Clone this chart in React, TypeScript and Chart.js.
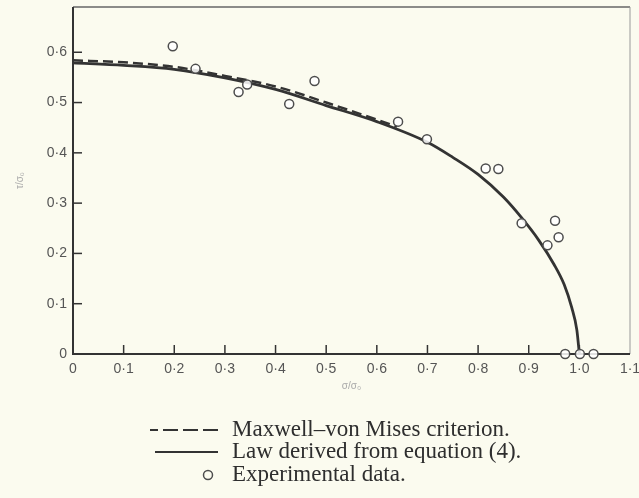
import React, { useEffect, useRef } from 'react';
import { Chart, registerables } from 'chart.js';

Chart.register(...registerables);

// Axis ticks
const xTicks = [0, 0.1, 0.2, 0.3, 0.4, 0.5, 0.6, 0.7, 0.8, 0.9, 1.0, 1.1];
const yTicks = [0, 0.1, 0.2, 0.3, 0.4, 0.5, 0.6];

// Experimental data (open circles)
const expSigma = [0.197, 0.242, 0.327, 0.344, 0.427, 0.477, 0.642, 0.699, 0.815, 0.84, 0.886, 0.937, 0.952, 0.959, 0.972, 1.001, 1.028];
const expTau = [0.612, 0.567, 0.521, 0.536, 0.497, 0.543, 0.462, 0.427, 0.369, 0.368, 0.26, 0.216, 0.265, 0.232, 0, 0, 0];

// Maxwell–von Mises criterion (dashed)
const misesSigma = [0, 0.1, 0.2, 0.3, 0.4, 0.5, 0.6, 0.64];
const misesTau = [0.584, 0.58, 0.571, 0.553, 0.532, 0.5, 0.466, 0.452];

// Law derived from equation (4) (solid)
const lawSigma = [0, 0.1, 0.2, 0.3, 0.4, 0.5, 0.6, 0.7, 0.75, 0.8, 0.85, 0.885, 0.92, 0.95, 0.97, 0.985, 0.995, 1.0];
const lawTau = [0.579, 0.574, 0.566, 0.549, 0.526, 0.494, 0.462, 0.421, 0.391, 0.357, 0.312, 0.272, 0.226, 0.178, 0.138, 0.092, 0.048, 0];

const labels = ['Maxwell–von Mises criterion.', 'Law derived from equation (4).', 'Experimental data.'];

const INK = '#333333';
const TICK_COLOR = '#555555';
const BG = '#fbfbef';

const fmt = (v: number) => (v === 0 ? '0' : v.toFixed(1).replace('.', '·'));

const framePlugin = {
  id: 'frame',
  beforeDatasetsDraw(chart: any) {
    const { ctx, chartArea } = chart;
    const { left, right, top, bottom } = chartArea;
    ctx.save();
    ctx.strokeStyle = '#666';
    ctx.lineWidth = 1.3;
    ctx.beginPath();
    ctx.moveTo(left, top);
    ctx.lineTo(right, top);
    ctx.stroke();
    ctx.strokeStyle = '#999';
    ctx.lineWidth = 1;
    ctx.beginPath();
    ctx.moveTo(right, top);
    ctx.lineTo(right, bottom);
    ctx.stroke();
    ctx.strokeStyle = INK;
    ctx.lineWidth = 2;
    ctx.beginPath();
    ctx.moveTo(left, top);
    ctx.lineTo(left, bottom);
    ctx.lineTo(right, bottom);
    ctx.stroke();
    ctx.lineWidth = 1.5;
    const xs = chart.scales.x;
    const ys = chart.scales.y;
    xs.ticks.forEach((t: any) => {
      if (t.value === 0 || t.value >= 1.1) return;
      const px = xs.getPixelForValue(t.value);
      ctx.beginPath();
      ctx.moveTo(px, bottom);
      ctx.lineTo(px, bottom - 9);
      ctx.stroke();
    });
    ys.ticks.forEach((t: any) => {
      if (t.value === 0) return;
      const py = ys.getPixelForValue(t.value);
      ctx.beginPath();
      ctx.moveTo(left, py);
      ctx.lineTo(left + 9, py);
      ctx.stroke();
    });
    ctx.restore();
  },
  afterDraw(chart: any) {
    const { ctx } = chart;
    const ds = chart.data.datasets;
    ctx.save();
    const textX = 232;
    const rows = [430, 452, 475];
    ctx.font = '23px "Liberation Serif", serif';
    ctx.fillStyle = '#2e2e2e';
    ctx.textBaseline = 'middle';
    ctx.textAlign = 'left';
    ctx.strokeStyle = INK;
    ctx.lineWidth = 2;
    ctx.setLineDash([15, 5]);
    ctx.beginPath();
    ctx.moveTo(218, rows[0]);
    ctx.lineTo(150, rows[0]);
    ctx.stroke();
    ctx.setLineDash([]);
    ctx.fillText(ds[1].label, textX, rows[0]);
    ctx.beginPath();
    ctx.moveTo(155, rows[1]);
    ctx.lineTo(218, rows[1]);
    ctx.stroke();
    ctx.fillText(ds[2].label, textX, rows[1]);
    ctx.lineWidth = 1.5;
    ctx.strokeStyle = '#4d4d4d';
    ctx.beginPath();
    ctx.arc(208, rows[2], 4.5, 0, Math.PI * 2);
    ctx.stroke();
    ctx.fillText(ds[0].label, textX, rows[2]);
    ctx.restore();
  },
};

export default function App() {
  const ref = useRef<HTMLCanvasElement>(null);

  useEffect(() => {
    const canvas = ref.current!;
    const tickFont = { family: '"Liberation Sans", Arial, sans-serif', size: 14 };
    const chart = new Chart(canvas, {
      type: 'scatter',
      data: {
        datasets: [
          {
            label: labels[2],
            data: expSigma.map((x, i) => ({ x, y: expTau[i] })),
            showLine: false,
            pointRadius: 4.5,
            pointBorderWidth: 1.5,
            pointBorderColor: '#4d4d4d',
            pointBackgroundColor: 'rgba(255,255,255,0.85)',
            clip: false,
            order: 0,
          } as any,
          {
            label: labels[0],
            data: misesSigma.map((x, i) => ({ x, y: misesTau[i] })),
            showLine: true,
            borderColor: INK,
            borderWidth: 2.5,
            borderDash: [10, 5],
            pointRadius: 0,
            cubicInterpolationMode: 'monotone',
            order: 1,
          } as any,
          {
            label: labels[1],
            data: lawSigma.map((x, i) => ({ x, y: lawTau[i] })),
            showLine: true,
            borderColor: INK,
            borderWidth: 2.8,
            pointRadius: 0,
            cubicInterpolationMode: 'monotone',
            order: 2,
          } as any,
        ],
      },
      options: {
        responsive: false,
        animation: false,
        events: [],
        layout: { padding: { left: 0, top: 7, right: 0, bottom: 104 } },
        plugins: { legend: { display: false }, tooltip: { enabled: false } },
        scales: {
          x: {
            type: 'linear',
            min: 0,
            max: 1.1,
            afterBuildTicks: (s: any) => {
              s.ticks = xTicks.map((v) => ({ value: v }));
            },
            afterFit: (s: any) => {
              s.height = 40;
              s.paddingRight = 9;
              s.paddingLeft = 0;
            },
            grid: { display: false, drawTicks: false },
            border: { display: false },
            ticks: {
              padding: 7,
              color: TICK_COLOR,
              font: tickFont,
              maxRotation: 0,
              autoSkip: false,
              callback: (v: any) => fmt(Number(v)),
            },
            title: {
              display: true,
              text: 'σ/σ₀',
              color: '#aaa',
              font: { size: 10 },
              padding: { top: 0, bottom: 2 },
            },
          },
          y: {
            type: 'linear',
            min: 0,
            max: 0.69,
            afterBuildTicks: (s: any) => {
              s.ticks = yTicks.map((v) => ({ value: v }));
            },
            afterFit: (s: any) => {
              s.width = 73;
              s.paddingTop = 0;
              s.paddingBottom = 0;
            },
            grid: { display: false, drawTicks: false },
            border: { display: false },
            ticks: {
              padding: 6,
              color: TICK_COLOR,
              font: tickFont,
              autoSkip: false,
              callback: (v: any) => fmt(Number(v)),
            },
            title: {
              display: true,
              text: 'τ/σ₀',
              color: '#aaa',
              font: { size: 10 },
              padding: { top: 14, bottom: 0 },
            },
          },
        },
      },
      plugins: [framePlugin],
    });
    return () => chart.destroy();
  }, []);

  return (
    <div style={{ position: 'absolute', left: 0, top: 0, width: 639, height: 498, background: BG }}>
      <canvas ref={ref} width={639} height={498} style={{ display: 'block' }} />
    </div>
  );
}
